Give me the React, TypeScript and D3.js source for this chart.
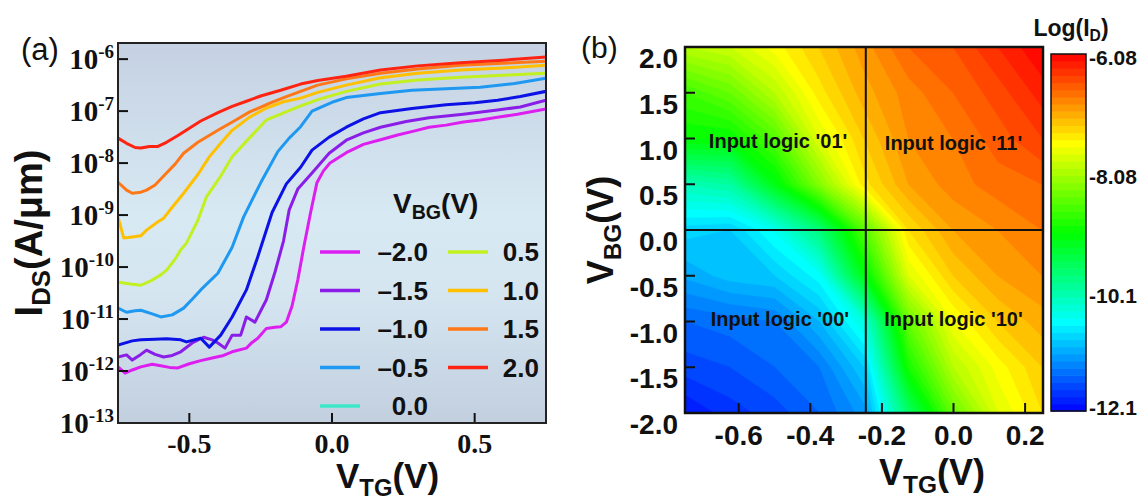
import React, { useEffect, useRef } from 'react';
import * as d3 from 'd3';

const SANS = "'Liberation Sans', Arial, Helvetica, sans-serif";
const SERIF = "'Liberation Serif', 'Times New Roman', Times, serif";

// ---------- (a) transfer curves: [V_TG (V), log10 I_DS (A/um)] ----------
const curveVbgNeg20 = [[-0.75,-11.92],[-0.725,-12.04],[-0.70,-11.98],[-0.67,-11.92],[-0.63,-11.87],[-0.60,-11.90],[-0.57,-11.93],[-0.54,-11.94],[-0.50,-11.86],[-0.46,-11.80],[-0.42,-11.75],[-0.38,-11.70],[-0.35,-11.63],[-0.30,-11.56],[-0.28,-11.45],[-0.26,-11.37],[-0.23,-11.18],[-0.20,-11.16],[-0.18,-11.15],[-0.16,-11.06],[-0.14,-10.75],[-0.12,-10.25],[-0.10,-9.65],[-0.075,-8.95],[-0.053,-8.38],[-0.03,-8.15],[-0.007,-8.0],[0.05,-7.8],[0.11,-7.64],[0.17,-7.55],[0.23,-7.46],[0.29,-7.38],[0.34,-7.31],[0.40,-7.27],[0.46,-7.21],[0.52,-7.17],[0.58,-7.12],[0.65,-7.06],[0.75,-6.96]];
const curveVbgNeg15 = [[-0.75,-11.73],[-0.72,-11.69],[-0.70,-11.79],[-0.67,-11.68],[-0.65,-11.60],[-0.62,-11.68],[-0.59,-11.73],[-0.56,-11.70],[-0.53,-11.63],[-0.49,-11.46],[-0.45,-11.35],[-0.42,-11.40],[-0.40,-11.46],[-0.375,-11.56],[-0.35,-11.31],[-0.32,-11.31],[-0.30,-10.96],[-0.27,-11.06],[-0.23,-10.63],[-0.20,-10.10],[-0.17,-9.50],[-0.15,-8.90],[-0.12,-8.50],[-0.07,-8.19],[-0.01,-7.81],[0.05,-7.56],[0.11,-7.42],[0.17,-7.31],[0.26,-7.20],[0.34,-7.13],[0.46,-7.06],[0.58,-6.98],[0.66,-6.92],[0.75,-6.79]];
const curveVbgNeg10 = [[-0.75,-11.50],[-0.70,-11.42],[-0.67,-11.40],[-0.62,-11.39],[-0.58,-11.38],[-0.53,-11.40],[-0.51,-11.44],[-0.46,-11.37],[-0.43,-11.54],[-0.39,-11.31],[-0.35,-10.96],[-0.30,-10.44],[-0.26,-9.80],[-0.21,-8.95],[-0.16,-8.40],[-0.11,-8.08],[-0.07,-7.75],[-0.01,-7.50],[0.05,-7.31],[0.11,-7.15],[0.17,-7.03],[0.28,-6.95],[0.40,-6.88],[0.50,-6.84],[0.58,-6.79],[0.66,-6.72],[0.75,-6.62]];
const curveVbgNeg05 = [[-0.75,-10.79],[-0.72,-10.87],[-0.69,-10.84],[-0.67,-10.83],[-0.63,-10.90],[-0.60,-10.96],[-0.56,-10.92],[-0.52,-10.79],[-0.49,-10.62],[-0.46,-10.44],[-0.40,-10.12],[-0.35,-9.62],[-0.31,-9.04],[-0.25,-8.38],[-0.19,-7.78],[-0.15,-7.52],[-0.11,-7.30],[-0.07,-7.00],[0.0,-6.83],[0.05,-6.74],[0.17,-6.66],[0.28,-6.60],[0.40,-6.57],[0.52,-6.54],[0.64,-6.47],[0.75,-6.37]];
const curveVbg00: number[][] = []; // in legend only
const curveVbg05 = [[-0.75,-10.29],[-0.70,-10.33],[-0.67,-10.35],[-0.63,-10.25],[-0.60,-10.15],[-0.58,-10.06],[-0.55,-9.85],[-0.53,-9.67],[-0.51,-9.54],[-0.47,-9.10],[-0.44,-8.65],[-0.39,-8.25],[-0.35,-7.88],[-0.29,-7.52],[-0.23,-7.17],[-0.18,-7.06],[-0.11,-6.90],[-0.05,-6.78],[0.05,-6.62],[0.17,-6.48],[0.30,-6.40],[0.45,-6.35],[0.60,-6.31],[0.75,-6.27]];
const curveVbg10 = [[-0.75,-9.04],[-0.73,-9.44],[-0.70,-9.42],[-0.67,-9.40],[-0.65,-9.29],[-0.61,-9.13],[-0.59,-9.06],[-0.56,-8.85],[-0.52,-8.58],[-0.47,-8.22],[-0.43,-7.88],[-0.39,-7.62],[-0.35,-7.37],[-0.29,-7.12],[-0.23,-6.94],[-0.17,-6.82],[-0.11,-6.75],[-0.05,-6.64],[0.05,-6.50],[0.17,-6.36],[0.30,-6.27],[0.45,-6.21],[0.60,-6.17],[0.75,-6.12]];
const curveVbg15 = [[-0.75,-8.37],[-0.72,-8.52],[-0.70,-8.58],[-0.67,-8.56],[-0.65,-8.52],[-0.62,-8.42],[-0.58,-8.19],[-0.55,-8.02],[-0.52,-7.81],[-0.47,-7.60],[-0.40,-7.37],[-0.34,-7.18],[-0.29,-7.02],[-0.22,-6.85],[-0.16,-6.72],[-0.11,-6.62],[-0.05,-6.50],[0.05,-6.38],[0.17,-6.27],[0.30,-6.19],[0.45,-6.12],[0.60,-6.08],[0.75,-6.04]];
const curveVbg20 = [[-0.75,-7.52],[-0.72,-7.62],[-0.69,-7.70],[-0.67,-7.71],[-0.64,-7.68],[-0.61,-7.68],[-0.58,-7.60],[-0.54,-7.47],[-0.50,-7.33],[-0.46,-7.19],[-0.40,-7.03],[-0.35,-6.91],[-0.30,-6.81],[-0.25,-6.71],[-0.18,-6.60],[-0.11,-6.48],[-0.05,-6.41],[0.05,-6.33],[0.17,-6.21],[0.30,-6.13],[0.45,-6.07],[0.60,-6.02],[0.75,-5.96]];

const transferCurves = [curveVbgNeg20, curveVbgNeg15, curveVbgNeg10, curveVbgNeg05, curveVbg00, curveVbg05, curveVbg10, curveVbg15, curveVbg20];
const vbgLabels = ['\u20132.0', '\u20131.5', '\u20131.0', '\u20130.5', '0.0', '0.5', '1.0', '1.5', '2.0'];
const curveColors = ['#dc1ef0', '#8a1ee8', '#0c12e6', '#1e98f0', '#3ce8c8', '#c2f020', '#ffc000', '#ff7818', '#ff2412'];
const idsExponents = [-13, -12, -11, -10, -9, -8, -7, -6];
const vtgTicksA = [-0.5, 0.0, 0.5];

// ---------- (b) contour map: log10(I_D) on (V_TG, V_BG) grid ----------
const vtgGrid = [-0.75, -0.625, -0.5, -0.375, -0.25, -0.125, 0.0, 0.125, 0.25];
const vbgGrid = [2.0, 1.5, 1.0, 0.5, 0.0, -0.5, -1.0, -1.5, -2.0];
const logIdMap = [
  [-8.01, -7.89, -7.59, -7.28, -6.98, -6.68, -6.56, -6.32, -6.08],
  [-8.73, -8.49, -8.01, -7.46, -7.10, -6.86, -6.68, -6.50, -6.26],
  [-9.09, -9.09, -8.61, -7.77, -7.28, -6.92, -6.80, -6.62, -6.44],
  [-10.17, -10.05, -9.21, -8.31, -7.46, -7.04, -6.86, -6.74, -6.68],
  [-10.84, -10.90, -10.51, -9.81, -8.61, -7.40, -7.04, -6.92, -6.80],
  [-11.11, -10.96, -10.90, -10.59, -9.21, -7.77, -7.28, -7.04, -6.92],
  [-11.50, -11.44, -11.38, -11.02, -10.41, -8.49, -7.65, -7.28, -7.10],
  [-11.68, -11.62, -11.50, -11.38, -10.90, -8.97, -8.01, -7.59, -7.28],
  [-11.98, -11.80, -11.68, -11.50, -11.20, -9.69, -8.49, -7.77, -7.40],
];
const vtgTicksB = [-0.6, -0.4, -0.2, 0.0, 0.2];
const vbgTicksB = [2.0, 1.5, 1.0, 0.5, 0.0, -0.5, -1.0, -1.5, -2.0];
const colorbarTicks = [-6.08, -8.08, -10.1, -12.1];
const logicLabels = ["Input logic '01'", "Input logic '11'", "Input logic '00'", "Input logic '10'"];
const logicVtg = [-0.49, 0.0, -0.485, 0.0];
const logicVbg = [0.97, 0.95, -0.97, -0.97];
const zMin = -12.1, zMax = -6.08, nLevels = 50;

const fmt1 = (v: number) => v.toFixed(1);

// rich text helper: parts = [text, 'n' | 'sub' | 'sup']
function richText(parent: any, x: number, y: number, parts: string[][], size: number, opts: any = {}) {
  const t = parent.append('text')
    .attr('x', x).attr('y', y)
    .attr('font-family', opts.family || SANS)
    .attr('font-weight', opts.weight || 'bold')
    .attr('font-size', size)
    .attr('text-anchor', opts.anchor || 'start')
    .attr('fill', '#111');
  if (opts.transform) t.attr('transform', opts.transform);
  let shift = 0;
  parts.forEach(([s, kind]) => {
    const target = kind === 'sub' ? size * 0.22 : kind === 'sup' ? -size * 0.4 : 0;
    const sp = t.append('tspan').attr('dy', target - shift).text(s);
    if (kind !== 'n') sp.attr('font-size', size * (opts.small || 0.68));
    shift = target;
  });
  return t;
}

function drawTransfer(svg: any) {
  const L = 118, R = 546, T = 43, B = 423;
  const x = d3.scaleLinear().domain([-0.75, 0.75]).range([L, R]);
  const y = d3.scaleLog().domain([1e-13, Math.pow(10, -5.69)]).range([B, T]);
  const line = d3.line<number[]>().x(d => x(d[0])).y(d => y(Math.pow(10, d[1])));

  const defs = svg.append('defs');
  const grad = defs.append('linearGradient').attr('id', 'bgA').attr('x1', 0).attr('y1', 0).attr('x2', 0).attr('y2', 1);
  grad.append('stop').attr('offset', '0%').attr('stop-color', '#c5d1e2');
  grad.append('stop').attr('offset', '45%').attr('stop-color', '#d7e9f3');
  grad.append('stop').attr('offset', '65%').attr('stop-color', '#d5e6f1');
  grad.append('stop').attr('offset', '100%').attr('stop-color', '#c2cfdf');
  defs.append('clipPath').attr('id', 'clipA').append('rect')
    .attr('x', L).attr('y', T).attr('width', R - L).attr('height', B - T);

  const g = svg.append('g');
  g.append('rect').attr('x', L).attr('y', T).attr('width', R - L).attr('height', B - T).attr('fill', 'url(#bgA)');

  g.append('g').attr('clip-path', 'url(#clipA)')
    .selectAll('path').data(transferCurves).join('path')
    .attr('d', (d: number[][]) => (d.length ? line(d) : null))
    .attr('fill', 'none')
    .attr('stroke', (d: any, i: number) => curveColors[i])
    .attr('stroke-width', 3)
    .attr('stroke-linejoin', 'round');

  // legend
  const lg = g.append('g');
  richText(lg, 393, 213, [['V', 'n'], ['BG', 'sub'], ['(V)', 'n']], 28, { small: 0.7 });
  vbgLabels.forEach((lab, i) => {
    const col = i < 5 ? 0 : 1;
    const row = i < 5 ? i : i - 5;
    const ly = 252 + row * 38.5;
    const lx = col === 0 ? 320 : 448;
    lg.append('line').attr('x1', lx).attr('x2', lx + 40).attr('y1', ly).attr('y2', ly)
      .attr('stroke', curveColors[i]).attr('stroke-width', 3.5);
    lg.append('text').attr('x', col === 0 ? 428 : 539).attr('y', ly + 9)
      .attr('text-anchor', 'end').attr('font-family', SANS).attr('font-weight', 'bold')
      .attr('font-size', 26).attr('fill', '#111').text(lab);
  });

  // ticks
  g.selectAll('.ytA').data(idsExponents).join('line').attr('class', 'ytA')
    .attr('x1', L).attr('x2', L + 10)
    .attr('y1', (e: number) => y(Math.pow(10, e))).attr('y2', (e: number) => y(Math.pow(10, e)))
    .attr('stroke', '#111').attr('stroke-width', 2);
  g.selectAll('.xtA').data(vtgTicksA).join('line').attr('class', 'xtA')
    .attr('x1', (v: number) => x(v)).attr('x2', (v: number) => x(v))
    .attr('y1', B).attr('y2', B - 10)
    .attr('stroke', '#111').attr('stroke-width', 2);

  g.append('rect').attr('x', L).attr('y', T).attr('width', R - L).attr('height', B - T)
    .attr('fill', 'none').attr('stroke', '#222').attr('stroke-width', 2);

  // tick labels
  idsExponents.forEach(e => {
    const t = g.append('text').attr('x', L - 4).attr('y', y(Math.pow(10, e)) + 10)
      .attr('text-anchor', 'end').attr('font-family', SERIF).attr('font-weight', 'bold')
      .attr('font-size', 29).attr('fill', '#111');
    t.append('tspan').text('10');
    t.append('tspan').attr('dy', -11).attr('font-size', 19).text(String(e));
  });
  vtgTicksA.forEach(v => {
    g.append('text').attr('x', x(v)).attr('y', 453).attr('text-anchor', 'middle')
      .attr('font-family', SERIF).attr('font-weight', 'bold').attr('font-size', 28)
      .attr('fill', '#111').text(fmt1(v));
  });

  // titles
  richText(g, (L + R) / 2 + 4, 488, [['V', 'n'], ['TG', 'sub'], ['(V)', 'n']], 35);
  richText(g, 0, 0, [['I', 'n'], ['DS', 'sub'], ['(A/\u03bcm)', 'n']], 38,
    { anchor: 'middle', transform: `translate(42,${(T + B) / 2}) rotate(-90)` });
  g.append('text').attr('x', 21).attr('y', 60).attr('font-family', SANS)
    .attr('font-size', 31).attr('fill', '#111').text('(a)');
}

function drawMap(svg: any) {
  const L = 685, R = 1043, T = 47, B = 413;
  const x = d3.scaleLinear().domain([-0.75, 0.25]).range([L, R]);
  const y = d3.scaleLinear().domain([-2, 2]).range([B, T]);
  const nx = vtgGrid.length, ny = vbgGrid.length;
  const dv = vtgGrid[1] - vtgGrid[0];
  const db = vbgGrid[0] - vbgGrid[1];

  const cmap = d3.scaleLinear<string>()
    .domain([0, 0.25, 0.5, 0.75, 1])
    .range(['#0000ff', '#00ffff', '#00ff00', '#ffff00', '#ff0000']);
  const levels = d3.range(nLevels).map(i => zMin + (i * (zMax - zMin)) / nLevels);
  const bandColor = (i: number) => cmap((i + 0.5) / nLevels);

  const contours = d3.contours().size([nx, ny]).thresholds(levels)(logIdMap.flat());
  const proj = d3.geoTransform({
    point(this: any, px: number, py: number) {
      this.stream.point(x(vtgGrid[0] + (px - 0.5) * dv), y(vbgGrid[0] - (py - 0.5) * db));
    },
  });
  const path = d3.geoPath(proj);

  svg.select('defs').append('clipPath').attr('id', 'clipB').append('rect')
    .attr('x', L).attr('y', T).attr('width', R - L).attr('height', B - T);

  const g = svg.append('g');
  g.append('g').attr('clip-path', 'url(#clipB)')
    .selectAll('path').data(contours).join('path')
    .attr('d', (c: any) => path(c))
    .attr('fill', (c: any, i: number) => bandColor(i))
    .attr('stroke', (c: any, i: number) => bandColor(i))
    .attr('stroke-width', 0.5);

  // quadrant dividers
  g.append('line').attr('x1', x(-0.245)).attr('x2', x(-0.245)).attr('y1', T).attr('y2', B)
    .attr('stroke', '#111').attr('stroke-width', 2);
  g.append('line').attr('x1', L).attr('x2', R).attr('y1', y(0)).attr('y2', y(0))
    .attr('stroke', '#111').attr('stroke-width', 2);

  logicLabels.forEach((s, i) => {
    g.append('text').attr('x', x(logicVtg[i])).attr('y', y(logicVbg[i]) + 7)
      .attr('text-anchor', 'middle').attr('font-family', SANS).attr('font-weight', 'bold')
      .attr('font-size', 20).attr('fill', '#111').text(s);
  });

  // ticks
  g.selectAll('.ytB').data(vbgTicksB).join('line').attr('class', 'ytB')
    .attr('x1', L).attr('x2', L + 10)
    .attr('y1', (v: number) => y(v)).attr('y2', (v: number) => y(v))
    .attr('stroke', '#111').attr('stroke-width', 2);
  g.selectAll('.xtB').data(vtgTicksB).join('line').attr('class', 'xtB')
    .attr('x1', (v: number) => x(v)).attr('x2', (v: number) => x(v))
    .attr('y1', B).attr('y2', B - 10)
    .attr('stroke', '#111').attr('stroke-width', 2);
  g.append('rect').attr('x', L).attr('y', T).attr('width', R - L).attr('height', B - T)
    .attr('fill', 'none').attr('stroke', '#111').attr('stroke-width', 2.5);

  vbgTicksB.forEach(v => {
    g.append('text').attr('x', L - 7).attr('y', y(v) + 21).attr('text-anchor', 'end')
      .attr('font-family', SANS).attr('font-weight', 'bold').attr('font-size', 28)
      .attr('fill', '#111').text(fmt1(v));
  });
  vtgTicksB.forEach(v => {
    g.append('text').attr('x', x(v)).attr('y', 445).attr('text-anchor', 'middle')
      .attr('font-family', SANS).attr('font-weight', 'bold').attr('font-size', 28)
      .attr('fill', '#111').text(fmt1(v));
  });

  richText(g, 879, 485, [['V', 'n'], ['TG', 'sub'], ['(V)', 'n']], 36);
  richText(g, 0, 0, [['V', 'n'], ['BG', 'sub'], ['(V)', 'n']], 36,
    { anchor: 'middle', transform: `translate(613,${(T + B) / 2}) rotate(-90)` });
  g.append('text').attr('x', 581).attr('y', 58).attr('font-family', SANS)
    .attr('font-size', 30).attr('fill', '#111').text('(b)');

  // colorbar
  const cL = 1051, cR = 1086;
  const cy = d3.scaleLinear().domain([zMin, zMax]).range([411, 54]);
  const step = (zMax - zMin) / nLevels;
  g.append('g').selectAll('rect').data(levels).join('rect')
    .attr('x', cL).attr('width', cR - cL)
    .attr('y', (lv: number) => cy(lv + step))
    .attr('height', (lv: number) => cy(lv) - cy(lv + step) + 0.6)
    .attr('fill', (lv: number, i: number) => bandColor(i));
  g.append('rect').attr('x', cL).attr('y', cy(zMax)).attr('width', cR - cL).attr('height', cy(zMin) - cy(zMax))
    .attr('fill', 'none').attr('stroke', '#111').attr('stroke-width', 1.5);
  colorbarTicks.forEach(v => {
    g.append('text').attr('x', cR + 3).attr('y', Math.min(cy(v), 404) + 11).attr('font-family', SANS)
      .attr('font-weight', 'bold').attr('font-size', 21).attr('fill', '#111').text(String(v));
  });
  richText(g, 1071, 36, [['Log(I', 'n'], ['D', 'sub'], [')', 'n']], 23, { anchor: 'middle' });
}

export default function App() {
  const svgRef = useRef<SVGSVGElement>(null);

  useEffect(() => {
    const svg = d3.select(svgRef.current);
    svg.selectAll('*').remove();
    drawTransfer(svg);
    drawMap(svg);
  }, []);

  return (
    <svg
      ref={svgRef}
      width={1142}
      height={498}
      style={{ position: 'absolute', left: 0, top: 0, background: '#fff' }}
    />
  );
}
